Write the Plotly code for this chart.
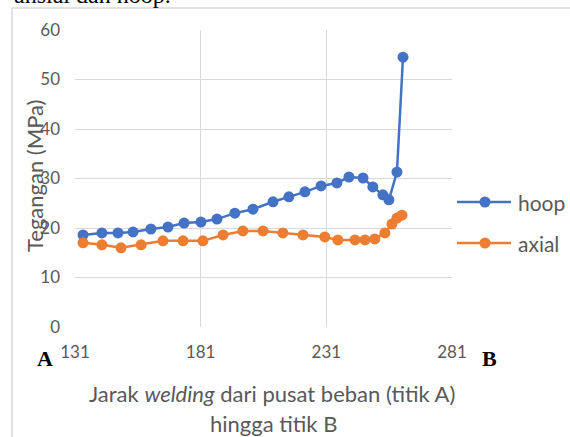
import plotly.graph_objects as go

# Data
hoop_x = [134.2, 141.7, 148.1, 154.1, 161.2, 168.0, 174.4, 181.1, 187.5, 194.6,
          201.8, 209.8, 216.1, 222.5, 228.9, 235.2, 240.0, 245.6, 249.5, 253.5,
          255.9, 259.1, 261.5]
hoop_y = [18.6, 19.0, 19.0, 19.2, 19.8, 20.2, 21.0, 21.2, 21.8, 23.0,
          23.8, 25.3, 26.3, 27.3, 28.5, 29.1, 30.3, 30.1, 28.3, 26.7,
          25.7, 31.3, 54.5]
axial_x = [134.2, 141.7, 149.3, 157.3, 166.0, 174.0, 181.9, 189.9, 197.8, 205.8,
           213.7, 221.7, 230.4, 235.6, 242.4, 246.4, 250.3, 254.3, 257.1, 259.1,
           261.1]
axial_y = [17.0, 16.6, 16.0, 16.6, 17.4, 17.4, 17.4, 18.6, 19.4, 19.4,
           19.0, 18.6, 18.2, 17.6, 17.6, 17.6, 17.8, 19.0, 20.8, 22.0,
           22.6]

x_ticks = [131, 181, 231, 281]
y_ticks = [0, 10, 20, 30, 40, 50, 60]

series_names = ["hoop", "axial"]
colors = ["#4472C4", "#ED7D31"]

W, H = 570, 437
L, R, T, B = 75, 118, 30, 110
FONT = "Lato, 'Open Sans', sans-serif"
GREY = "#595959"

fig = go.Figure()
for name, xs, ys, c in zip(series_names, [hoop_x, axial_x], [hoop_y, axial_y], colors):
    fig.add_trace(go.Scatter(
        x=xs, y=ys, name=name, mode="lines+markers",
        line=dict(color=c, width=2.5),
        marker=dict(color=c, size=11, line=dict(width=0)),
        showlegend=False,
    ))

pw = W - L - R
ph = H - T - B


def px_x(sx):
    return (sx - L) / pw


def px_y(sy):
    return (H - B - sy) / ph


def ann(text, sx, sy, size, family=FONT, color=GREY, angle=0, xa="center", ya="middle"):
    return dict(text=text, textangle=angle, x=px_x(sx), y=px_y(sy),
                xref="paper", yref="paper", xanchor=xa, yanchor=ya,
                showarrow=False, font=dict(family=family, size=size, color=color))


annotations = [
    ann("Tegangan (MPa)", 34, 176, 22, angle=-90),
    ann("Jarak <i>welding</i> dari pusat beban (titik A)", 272, 393, 22),
    ann("hingga titik B", 273, 423, 22),
    ann("<b>A</b>", 45, 358, 22, family="Liberation Serif, serif", color="black"),
    ann("<b>B</b>", 489, 358, 22, family="Liberation Serif, serif", color="black"),
    ann("ansial dan hoop.", 12, 10, 24, family="Liberation Serif, serif",
        color="black", xa="left", ya="bottom"),
]

shapes = [
    dict(type="rect", xref="paper", yref="paper",
         x0=px_x(12), x1=px_x(600), y0=px_y(8), y1=px_y(470),
         line=dict(color="#d9d9d9", width=1.5), fillcolor="rgba(0,0,0,0)", layer="below"),
]

# Legend drawn by hand so it does not push the plot margins
legend_rows = [202, 243]
for name, c, ly in zip(series_names, colors, legend_rows):
    shapes.append(dict(type="line", xref="paper", yref="paper",
                       x0=px_x(457), x1=px_x(511), y0=px_y(ly), y1=px_y(ly),
                       line=dict(color=c, width=2.5)))
    shapes.append(dict(type="circle", xref="paper", yref="paper",
                       x0=px_x(479.5), x1=px_x(490.5), y0=px_y(ly - 5.5), y1=px_y(ly + 5.5),
                       line=dict(color=c, width=0), fillcolor=c))
    annotations.append(ann(name, 516, ly, 21, xa="left"))

fig.update_layout(
    width=W, height=H,
    margin=dict(l=L, r=R, t=T, b=B, pad=0, autoexpand=False),
    paper_bgcolor="white", plot_bgcolor="white",
    font=dict(family=FONT, size=16, color=GREY),
    showlegend=False,
    annotations=annotations,
    shapes=shapes,
)
fig.update_xaxes(range=[131, 281], tickvals=x_ticks, ticktext=[str(v) for v in x_ticks],
                 showgrid=True, gridcolor="#d9d9d9", gridwidth=1.3, zeroline=False,
                 showline=False, ticks="", ticklabelstandoff=13,
                 tickfont=dict(family=FONT, size=17, color=GREY))
fig.update_yaxes(range=[0, 60], tickvals=y_ticks, showgrid=True, gridcolor="#d9d9d9",
                 gridwidth=1.3, zeroline=False, showline=False, ticks="",
                 ticklabelstandoff=14,
                 tickfont=dict(family=FONT, size=17, color=GREY))

fig.write_html(
    "out.html",
    config={"displayModeBar": False},
    post_script="document.body.style.margin='0px';document.body.style.overflow='hidden';",
)
